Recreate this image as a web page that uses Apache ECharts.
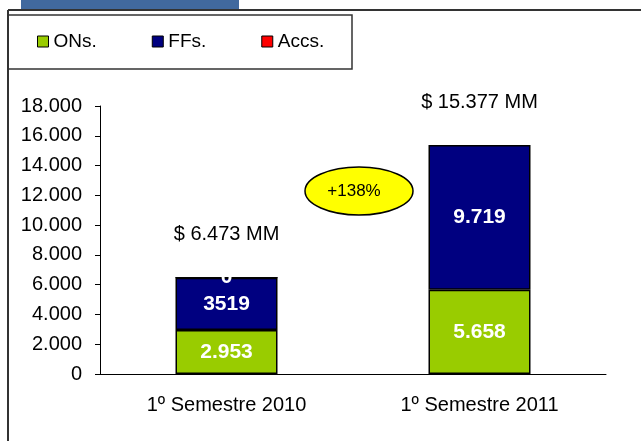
<!DOCTYPE html>
<html lang="es">
<head>
    <meta charset="UTF-8">
    <title>ONs / FFs</title>
    <script src="https://cdn.jsdelivr.net/npm/echarts@6/dist/echarts.min.js"></script>
    <style>
        html, body { margin: 0; padding: 0; background: #fff; }
        #chart { width: 641px; height: 441px; }
    </style>
</head>
<body>
    <div id="chart"></div>
    <script>
        // datos
        var categories = ['1º Semestre 2010', '1º Semestre 2011'];
        var onsValues = [2953, 5658];
        var ffsValues = [3519, 9719];
        var accsValues = [0, null];
        var totals = [6473, 15377];
        var ffsLabels = ['3519', '9.719'];   // asi aparece en el original
        var yMin = 0, yMax = 18000, yStep = 2000;

        var font = "'Liberation Sans', Arial, sans-serif";

        function fmt(v) {
            return String(v).replace(/\B(?=(\d{3})+(?!\d))/g, '.');
        }

        var growth = Math.round((totals[1] / totals[0] - 1) * 100);

        var chart = echarts.init(document.getElementById('chart'));

        var option = {
            animation: false,
            textStyle: { fontFamily: font },
            legend: {
                left: 37,
                top: 32,
                padding: 0,
                icon: 'rect',
                itemWidth: 11,
                itemHeight: 11,
                itemGap: 55,
                itemStyle: { borderColor: '#000', borderWidth: 1 },
                textStyle: { fontSize: 19, color: '#000', fontFamily: font },
                data: ['ONs.', 'FFs.', 'Accs.']
            },
            grid: { left: 100, right: 35, top: 106, bottom: 67 },
            xAxis: {
                type: 'category',
                data: categories,
                axisLine: { lineStyle: { color: '#000', width: 1 } },
                axisTick: { length: 6, lineStyle: { color: '#000' } },
                axisLabel: { color: '#000', fontSize: 20, margin: 21, fontFamily: font }
            },
            yAxis: {
                type: 'value',
                min: yMin,
                max: yMax,
                interval: yStep,
                splitLine: { show: false },
                axisLine: { show: true, lineStyle: { color: '#000', width: 1 } },
                axisTick: { show: true, length: 5, lineStyle: { color: '#000' } },
                axisLabel: {
                    color: '#000', fontSize: 20, margin: 18, fontFamily: font,
                    formatter: function (v) { return fmt(v); }
                }
            },
            series: [
                {
                    name: 'ONs.',
                    type: 'bar',
                    stack: 'a',
                    barWidth: 102,
                    data: onsValues,
                    itemStyle: { color: '#99cc00', borderColor: '#000', borderWidth: 1.5 },
                    label: {
                        show: true, position: 'inside', color: '#fff', fontWeight: 'bold', fontSize: 21,
                        formatter: function (p) { return fmt(p.value); }
                    }
                },
                {
                    name: 'FFs.',
                    type: 'bar',
                    stack: 'a',
                    barWidth: 102,
                    data: ffsValues,
                    itemStyle: { color: '#000080', borderColor: '#000', borderWidth: 1.5 },
                    label: {
                        show: true, position: 'inside', color: '#fff', fontWeight: 'bold', fontSize: 21,
                        formatter: function (p) { return ffsLabels[p.dataIndex]; }
                    }
                },
                {
                    name: 'Accs.',
                    type: 'bar',
                    stack: 'a',
                    barWidth: 102,
                    data: accsValues,
                    itemStyle: { color: '#ff0000', borderColor: '#000', borderWidth: 1 },
                    label: {
                        show: true, position: 'inside', color: '#fff', fontWeight: 'bold', fontSize: 21,
                        formatter: '{c}'
                    }
                },
                {
                    // totales arriba de cada barra
                    name: 'total',
                    type: 'bar',
                    barWidth: 102,
                    barGap: '-100%',
                    silent: true,
                    z: 1,
                    data: totals,
                    itemStyle: { color: 'rgba(0,0,0,0)' },
                    label: {
                        show: true, position: 'top', distance: 33, color: '#000', fontSize: 20,
                        formatter: function (p) { return '$ ' + fmt(p.value) + ' MM'; }
                    }
                }
            ],
            graphic: [
                // barra azul del encabezado
                { type: 'rect', shape: { x: 21, y: 0, width: 218, height: 9 }, style: { fill: '#41699e' } },
                // marco
                { type: 'line', shape: { x1: 8, y1: 10, x2: 641, y2: 10 }, style: { stroke: '#333', lineWidth: 2 } },
                { type: 'line', shape: { x1: 8, y1: 10, x2: 8, y2: 441 }, style: { stroke: '#333', lineWidth: 2 } },
                // caja de la leyenda
                { type: 'rect', shape: { x: 8, y: 15, width: 344, height: 54 }, style: { fill: 'none', stroke: '#333', lineWidth: 1.5 } },
                // ovalo con el crecimiento
                {
                    type: 'ellipse', z: 100,
                    shape: { cx: 359, cy: 191, rx: 54, ry: 24 },
                    style: { fill: '#ffff00', stroke: '#000', lineWidth: 1.5 }
                },
                {
                    type: 'text', z: 101, x: 354, y: 191,
                    style: {
                        text: '+' + growth + '%', fill: '#000', fontSize: 17, fontFamily: font,
                        align: 'center', verticalAlign: 'middle'
                    }
                }
            ]
        };
        chart.setOption(option);
    </script>
</body>
</html>
